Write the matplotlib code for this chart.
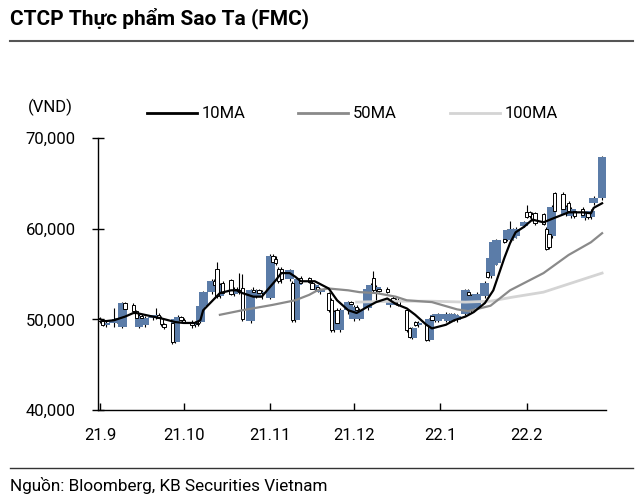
import numpy as np
import pandas as pd
import matplotlib
matplotlib.use("Agg")
import matplotlib.pyplot as plt
import matplotlib.dates as mdates
from matplotlib.lines import Line2D
from matplotlib.ticker import FuncFormatter

plt.rcParams['font.family'] = ['Roboto', 'Noto Sans', 'DejaVu Sans']

# Giá theo ngày (nghìn VND), từ 2021-09-01 đến 2022-02-28 (ngày làm việc)
price_open = [
    # Sep
    50.0, 49.8, 49.4, 49.6, 49.9, 50.0, 49.1, 51.8, 51.6, 50.9, 49.2, 50.4, 49.4, 50.2, 50.3, 50.5, 50.2, 49.5, 49.6, 47.5, 50.0, 50.3,
    # Oct
    49.9, 49.7, 49.4, 49.6, 49.7, 51.5, 53.0, 54.2, 55.5, 52.6, 54.0, 54.3, 52.8, 53.4, 53.2, 53.5, 49.8, 53.2, 52.6, 53.2, 52.9,
    # Nov
    52.4, 57.0, 56.6, 55.6, 55.6, 54.4, 54.0, 49.9, 53.8, 54.6, 54.6, 54.0, 53.2, 53.6, 53.0, 52.9, 52.1, 48.8, 51.0, 48.8, 51.0, 51.9,
    # Dec
    50.0, 51.4, 50.0, 51.2, 53.2, 54.6, 53.2, 53.4, 53.4, 51.6, 52.4, 51.9, 52.1, 51.0, 49.0, 47.9, 49.7, 49.4, 49.4, 47.7, 50.4, 49.8, 49.8,
    # Jan
    50.0, 49.8, 49.9, 50.0, 49.9, 50.6, 53.0, 51.0, 51.2, 51.4, 52.6, 55.2, 54.8, 56.0, 56.2, 58.9, 58.8, 58.8, 59.0, 59.2, 60.3,
    # Feb
    61.8, 61.8, 61.6, 61.7, 61.6, 60.0, 59.4, 59.2, 63.9, 63.8, 61.6, 62.8, 61.4, 62.0, 62.2, 61.2, 61.8, 61.3, 62.8, 63.4,
]
price_high = [
    50.3, 50.0, 49.9, 51.2, 50.2, 50.4, 51.9, 51.9, 51.8, 51.0, 50.6, 50.6, 50.4, 50.5, 51.2, 50.7, 50.4, 49.6, 49.8, 50.2, 50.5, 50.4,
    50.1, 49.9, 49.8, 49.8, 51.6, 53.1, 54.5, 54.4, 56.3, 54.0, 54.2, 54.5, 53.6, 53.6, 55.1, 55.0, 53.4, 53.6, 53.4, 53.4, 53.2,
    57.2, 57.2, 57.0, 55.8, 55.8, 55.6, 54.2, 54.1, 54.6, 54.8, 54.7, 54.2, 53.9, 53.7, 53.5, 53.0, 52.3, 51.0, 51.2, 51.2, 52.0, 52.0,
    51.6, 51.6, 51.2, 53.6, 54.0, 55.3, 53.8, 53.5, 53.6, 52.2, 52.6, 52.3, 52.3, 51.2, 49.2, 49.2, 49.8, 49.8, 49.5, 50.2, 50.6, 50.6, 50.7,
    50.8, 50.7, 50.7, 50.7, 50.6, 53.4, 53.3, 52.8, 52.6, 53.0, 54.2, 55.3, 57.0, 58.6, 58.9, 59.0, 60.0, 60.8, 60.1, 60.2, 60.8,
    62.6, 61.9, 61.8, 61.8, 61.7, 60.2, 59.6, 62.6, 64.0, 64.0, 62.6, 63.0, 62.4, 62.2, 62.4, 62.0, 62.0, 62.2, 63.6, 68.0,
]
price_low = [
    49.6, 49.3, 49.1, 49.1, 49.6, 49.8, 49.0, 51.0, 50.8, 50.1, 49.0, 49.9, 49.2, 49.9, 50.0, 50.1, 49.3, 48.9, 47.3, 47.4, 49.8, 49.8,
    49.6, 49.0, 49.2, 49.3, 49.6, 51.3, 52.8, 53.6, 52.4, 52.4, 52.8, 52.7, 52.6, 53.0, 52.8, 49.8, 49.6, 52.6, 52.4, 52.8, 52.2,
    52.2, 56.2, 56.0, 54.0, 54.0, 54.2, 49.7, 49.7, 51.4, 53.9, 54.0, 53.3, 53.1, 53.0, 52.8, 50.8, 48.6, 48.6, 49.4, 48.6, 50.6, 51.6,
    49.8, 50.8, 49.9, 51.0, 52.6, 53.0, 52.0, 53.0, 52.9, 51.4, 51.8, 51.6, 51.5, 48.6, 47.9, 47.8, 49.3, 49.2, 47.6, 47.6, 49.8, 49.7, 49.7,
    49.7, 49.7, 49.8, 49.8, 49.7, 50.5, 52.6, 50.7, 51.0, 51.2, 52.4, 54.6, 54.6, 55.8, 56.0, 58.4, 58.6, 58.6, 58.8, 59.0, 60.2,
    61.2, 61.2, 60.9, 60.4, 60.4, 57.6, 57.8, 59.0, 61.8, 62.0, 61.4, 61.8, 61.2, 61.2, 61.3, 61.0, 61.1, 61.1, 62.6, 63.2,
]
price_close = [
    49.8, 49.4, 49.6, 49.9, 50.0, 50.1, 51.8, 51.1, 50.9, 50.2, 50.4, 50.1, 50.2, 50.3, 50.5, 50.2, 49.5, 49.1, 47.5, 50.0, 50.3, 49.9,
    49.7, 49.4, 49.6, 49.5, 51.5, 53.0, 54.2, 53.8, 52.6, 53.8, 52.9, 52.8, 53.4, 53.2, 53.0, 50.0, 53.2, 53.0, 53.2, 52.9, 53.0,
    57.0, 56.3, 56.2, 54.2, 54.4, 55.4, 49.9, 53.8, 54.4, 54.0, 54.1, 53.4, 53.8, 53.2, 53.4, 51.0, 48.8, 50.8, 49.6, 51.0, 51.9, 51.7,
    51.4, 51.0, 51.0, 53.4, 53.8, 53.2, 53.6, 53.1, 53.0, 52.0, 51.9, 52.1, 51.6, 48.8, 48.0, 49.0, 49.4, 49.6, 47.7, 50.0, 49.9, 50.5, 50.6,
    50.6, 50.5, 50.6, 50.5, 50.4, 53.2, 52.7, 52.6, 52.4, 52.8, 54.0, 54.7, 56.8, 58.5, 58.8, 58.5, 59.8, 59.9, 60.0, 60.0, 60.7,
    61.3, 61.4, 61.0, 60.6, 60.5, 57.8, 58.0, 62.4, 62.0, 62.2, 62.4, 62.0, 62.2, 61.4, 61.5, 61.8, 61.3, 62.0, 63.4, 67.9,
]

# Đường trung bình động (nghìn VND)
ma10_dates = ["2021-09-01", "2021-09-03", "2021-09-06", "2021-09-10", "2021-09-13", "2021-09-14", "2021-09-17",
              "2021-09-23", "2021-09-28", "2021-10-01", "2021-10-05", "2021-10-07", "2021-10-08", "2021-10-14",
              "2021-10-18", "2021-10-20", "2021-10-22", "2021-10-26", "2021-10-29", "2021-11-03", "2021-11-05",
              "2021-11-08", "2021-11-10", "2021-11-12", "2021-11-17", "2021-11-22", "2021-11-25", "2021-11-29",
              "2021-12-02", "2021-12-06", "2021-12-09", "2021-12-13", "2021-12-16", "2021-12-20", "2021-12-23",
              "2021-12-27", "2021-12-29", "2022-01-03", "2022-01-06", "2022-01-10", "2022-01-13", "2022-01-17",
              "2022-01-20", "2022-01-24", "2022-01-26", "2022-01-28", "2022-01-31", "2022-02-03", "2022-02-07",
              "2022-02-11", "2022-02-16", "2022-02-21", "2022-02-24", "2022-02-25", "2022-02-28"]
ma10_vals = [50.0, 49.8, 49.9, 50.3, 50.7, 50.7, 50.5,
             50.1, 49.7, 49.6, 49.6, 49.9, 51.0, 52.9,
             53.2, 53.2, 52.9, 52.5, 52.5, 54.3, 55.1,
             55.1, 54.7, 54.2, 54.2, 53.4, 52.1, 51.0,
             50.7, 51.4, 51.9, 52.3, 51.7, 51.2, 50.5,
             49.4, 49.0, 49.4, 49.9, 50.3, 50.8, 51.8,
             53.2, 56.8, 58.4, 59.6, 60.2, 61.0, 60.7,
             61.2, 61.8, 61.8, 61.7, 62.3, 62.8]

ma50_dates = ["2021-10-14", "2021-10-22", "2021-11-02", "2021-11-10", "2021-11-15", "2021-11-18", "2021-11-22",
              "2021-11-29", "2021-12-03", "2021-12-09", "2021-12-16", "2021-12-20", "2021-12-29", "2022-01-07",
              "2022-01-11", "2022-01-19", "2022-01-26", "2022-02-07", "2022-02-16", "2022-02-24", "2022-02-28"]
ma50_vals = [50.5, 51.0, 51.6, 52.1, 52.7, 53.2, 53.4,
             53.2, 53.0, 52.9, 52.5, 52.1, 51.9, 51.1,
             50.9, 51.5, 53.2, 55.1, 57.1, 58.5, 59.5]

ma100_dates = ["2021-12-02", "2021-12-16", "2021-12-29", "2022-01-10", "2022-01-19", "2022-01-26",
               "2022-02-07", "2022-02-16", "2022-02-28"]
ma100_vals = [51.9, 52.0, 52.0, 51.9, 52.0, 52.4, 53.0, 53.9, 55.1]

legend_labels = ["10MA", "50MA", "100MA"]
ma_colors = ["#000000", "#8a8a8a", "#d4d4d4"]

month_ticks = ["2021-09-01", "2021-10-01", "2021-11-01", "2021-12-01", "2022-01-01", "2022-02-01"]
month_labels = ["21.9", "21.10", "21.11", "21.12", "22.1", "22.2"]

blue = "#5b7ca8"

dates = pd.bdate_range("2021-09-01", "2022-02-28")
x = mdates.date2num(dates.to_pydatetime())
o = np.array(price_open) * 1000
h = np.array(price_high) * 1000
l = np.array(price_low) * 1000
c = np.array(price_close) * 1000
up = c >= o
dn = ~up

fig = plt.figure(figsize=(6.4, 5.01), dpi=100)
ax = fig.add_axes([98 / 640, 1 - 410 / 501, (606 - 98) / 640, (410 - 138) / 501])

# nến: râu nằm dưới thân xanh, thân rỗng nằm trên
ax.vlines(x, l, h, color="black", linewidth=0.8, zorder=1.5)
ax.bar(x[up], c[up] - o[up], bottom=o[up], width=3.2, color=blue, linewidth=0, zorder=2)
ax.bar(x[dn], o[dn] - c[dn], bottom=c[dn], width=1.2, facecolor="white",
       edgecolor="black", linewidth=0.7, zorder=3)

# MA
for d, v, col, lw in [(ma100_dates, ma100_vals, ma_colors[2], 2.0),
                      (ma50_dates, ma50_vals, ma_colors[1], 1.6),
                      (ma10_dates, ma10_vals, ma_colors[0], 1.6)]:
    xd = mdates.date2num(pd.to_datetime(d).to_pydatetime())
    ax.plot(xd, np.array(v) * 1000, color=col, linewidth=lw, zorder=4)

x0 = mdates.date2num(pd.Timestamp("2021-09-01").to_pydatetime())
ax.set_xlim(x0 - 0.7, x0 + 181.4)
ax.set_ylim(40000, 70000)
ax.set_yticks([40000, 50000, 60000, 70000])
ax.yaxis.set_major_formatter(FuncFormatter(lambda v, p: f"{int(v):,}"))
ax.set_xticks(mdates.date2num(pd.to_datetime(month_ticks).to_pydatetime()))
ax.set_xticklabels(month_labels)

for s in ["top", "right"]:
    ax.spines[s].set_visible(False)
for s in ["left", "bottom"]:
    ax.spines[s].set_color("black")
    ax.spines[s].set_linewidth(1.0)
ax.tick_params(axis="y", direction="inout", length=8, width=1, labelsize=12, pad=12)
ax.tick_params(axis="x", direction="in", length=5, width=1, labelsize=12, pad=13)

# chú giải
leg_x = [147, 298, 450]
for lab, col, lx in zip(legend_labels, ma_colors, leg_x):
    fig.add_artist(Line2D([lx / 640, (lx + 50) / 640], [1 - 113 / 501] * 2,
                          color=col, linewidth=2, transform=fig.transFigure))
    fig.text((lx + 55) / 640, 1 - 113 / 501, lab, fontsize=12, va="center", ha="left")

fig.text(50 / 640, 1 - 107 / 501, "(VND)", fontsize=12, va="center", ha="center")

# tiêu đề và nguồn
fig.text(10 / 640, 1 - 18 / 501, "CTCP Thực phẩm Sao Ta (FMC)", fontsize=15,
         fontweight="bold", va="center", ha="left")
fig.add_artist(Line2D([10 / 640, 633 / 640], [1 - 41 / 501] * 2, color="#555555",
                      linewidth=1.5, transform=fig.transFigure))
fig.add_artist(Line2D([10 / 640, 633 / 640], [1 - 468 / 501] * 2, color="#333333",
                      linewidth=1.0, transform=fig.transFigure))
fig.text(10 / 640, 1 - 485 / 501, "Nguồn: Bloomberg, KB Securities Vietnam", fontsize=12.3,
         va="center", ha="left")

fig.savefig("out.png", dpi=100)
